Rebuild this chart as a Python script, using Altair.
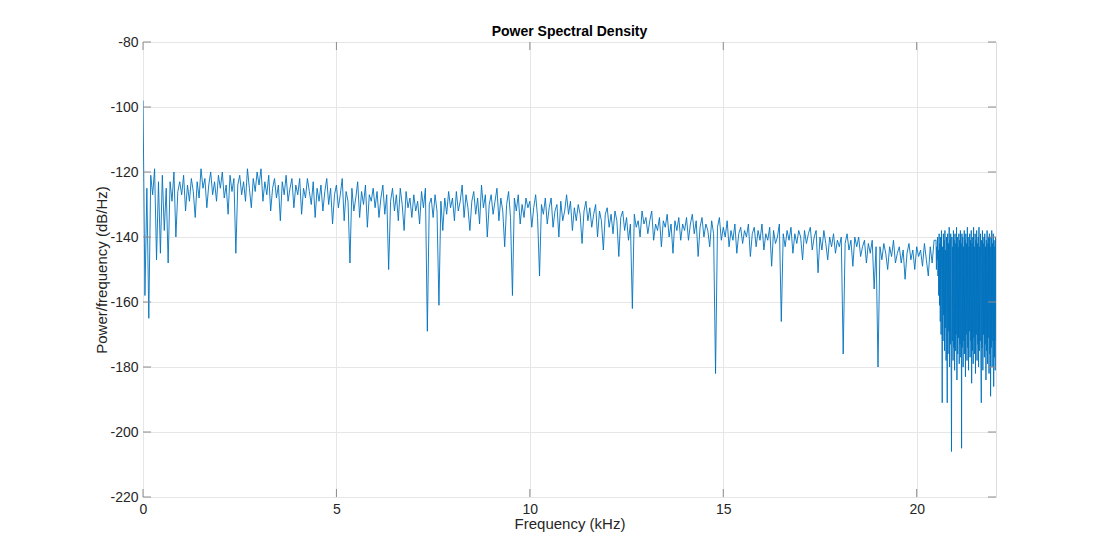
import altair as alt
import pandas as pd

# ---- data ----
# main part: 0.00 .. 20.45 kHz, bin step 0.05 kHz
step_main = 0.05
psd_main = [
    -98, -158, -125, -165, -121, -127, -119, -147, -123, -145,
    -121, -138, -125, -148, -123, -129, -120, -140, -126, -123,
    -127, -121, -132, -124, -129, -122, -126, -134, -123, -128,
    -119, -125, -122, -131, -124, -120, -127, -123, -129, -121,
    -125, -120, -128, -124, -133, -121, -126, -122, -145, -124,
    -121, -127, -123, -129, -119, -125, -131, -122, -126, -120,
    -124, -119, -129, -123, -127, -121, -132, -125, -122, -128,
    -124, -135, -123, -127, -121, -129, -125, -122, -131, -124,
    -127, -122, -133, -125, -128, -122, -126, -130, -123, -134,
    -125, -129, -124, -132, -126, -122, -130, -125, -136, -127,
    -124, -131, -127, -122, -135, -126, -129, -148, -125, -132,
    -128, -123, -134, -126, -130, -124, -137, -127, -129, -125,
    -131, -126, -134, -128, -124, -133, -127, -150, -129, -125,
    -132, -127, -135, -125, -130, -138, -126, -131, -128, -134,
    -127, -132, -129, -136, -126, -131, -125, -169, -130, -128,
    -134, -127, -132, -161, -129, -138, -128, -133, -126, -131,
    -128, -135, -126, -132, -129, -124, -134, -127, -131, -138,
    -129, -126, -133, -128, -136, -124, -131, -127, -140, -130,
    -127, -133, -129, -125, -135, -128, -132, -143, -130, -126,
    -134, -158, -128, -132, -127, -136, -130, -134, -128, -131,
    -129, -137, -131, -127, -134, -152, -130, -133, -128, -136,
    -131, -128, -137, -132, -130, -140, -129, -135, -132, -127,
    -133, -129, -138, -131, -135, -130, -133, -142, -132, -129,
    -135, -131, -137, -133, -130, -140, -132, -135, -144, -133,
    -131, -137, -133, -139, -132, -135, -146, -134, -132, -138,
    -134, -141, -136, -162, -133, -137, -135, -140, -132, -136,
    -134, -139, -135, -132, -141, -136, -138, -134, -143, -135,
    -137, -133, -140, -136, -145, -135, -138, -134, -141, -136,
    -138, -134, -141, -136, -133, -139, -135, -146, -137, -134,
    -140, -136, -138, -143, -135, -139, -182, -137, -134, -141,
    -137, -140, -135, -143, -138, -141, -136, -145, -139, -137,
    -142, -138, -140, -136, -146, -139, -137, -143, -138, -141,
    -136, -144, -139, -141, -137, -149, -138, -142, -140, -136,
    -166, -139, -143, -138, -141, -137, -145, -139, -142, -138,
    -140, -147, -138, -142, -139, -137, -144, -140, -138, -151,
    -140, -144, -138, -142, -147, -140, -143, -139, -145, -141,
    -143, -140, -176, -142, -139, -144, -141, -149, -140, -143,
    -140, -146, -143, -141, -148, -142, -145, -141, -156, -143,
    -180, -143, -147, -142, -145, -150, -143, -146, -141, -148,
    -145, -143, -148, -144, -153, -145, -142, -147, -144, -150,
    -143, -146, -144, -149, -142, -147, -152, -143, -148, -141,
]

# high-frequency part: 20.50 .. 22.05 kHz, bin step 0.01 kHz
start_hf = 20.50
step_hf = 0.01
psd_hf = [
    -141, -150, -143, -147, -140, -152, -144, -158, -139, -161,
    -142, -166, -140, -170, -138, -159, -191, -143, -172, -139,
    -164, -141, -175, -138, -168, -144, -178, -140, -171, -191,
    -139, -176, -142, -169, -137, -180, -141, -173, -139, -177,
    -206, -140, -172, -143, -178, -138, -174, -141, -181, -139,
    -175, -142, -170, -137, -184, -140, -176, -143, -171, -139,
    -179, -141, -173, -138, -177, -142, -205, -139, -174, -140,
    -180, -143, -172, -138, -176, -141, -183, -139, -170, -142,
    -178, -137, -174, -140, -181, -143, -169, -139, -177, -141,
    -172, -138, -185, -142, -175, -140, -179, -137, -171, -143,
    -176, -139, -182, -141, -170, -138, -178, -142, -173, -140,
    -180, -137, -175, -143, -172, -139, -178, -191, -141, -174,
    -138, -181, -142, -170, -140, -177, -139, -173, -143, -184,
    -141, -175, -138, -179, -142, -171, -140, -182, -139, -176,
    -143, -189, -140, -174, -138, -180, -142, -172, -139, -186,
    -141, -177, -143, -181, -140, -172,
]

x_ticks = [0, 5, 10, 15, 20]
y_ticks = [-220, -200, -180, -160, -140, -120, -100, -80]

freq = [round(i * step_main, 4) for i in range(len(psd_main))] + \
       [round(start_hf + i * step_hf, 4) for i in range(len(psd_hf))]
vals = psd_main + psd_hf
df = pd.DataFrame({"f": freq, "p": vals, "i": list(range(len(vals)))})

W, H = 853, 455
AX = "#8c8c8c"
TXT = "#262626"
FONT = "Liberation Sans"

xscale = alt.Scale(domain=[0, 22.05], nice=False, zero=False)
yscale = alt.Scale(domain=[-220, -80], nice=False, zero=False)

line = alt.Chart(df).mark_line(color="#0072BD", strokeWidth=0.9, clip=True).encode(
    x=alt.X("f:Q", scale=xscale, title="Frequency (kHz)",
            axis=alt.Axis(values=x_ticks, grid=True, gridColor="#e6e6e6",
                          domain=False, ticks=False, labelPadding=5,
                          labelFontSize=14, titleFontSize=15, titlePadding=0,
                          labelColor=TXT, titleColor=TXT, labelFont=FONT,
                          titleFont=FONT, titleFontWeight="normal",
                          labelFlush=False, labelExpr="'' + datum.value")),
    y=alt.Y("p:Q", scale=yscale, title="Power/frequency (dB/Hz)",
            axis=alt.Axis(values=y_ticks, grid=True, gridColor="#e6e6e6",
                          domain=False, ticks=False, labelPadding=5,
                          labelFontSize=14, titleFontSize=15, titlePadding=0,
                          labelColor=TXT, titleColor=TXT, labelFont=FONT,
                          titleFont=FONT, titleFontWeight="normal",
                          labelFlush=False, labelExpr="'' + datum.value")),
    order="i:Q",
)

xt = pd.DataFrame({"t": x_ticks})
yt = pd.DataFrame({"t": y_ticks})
TL = 8
xtick_bottom = alt.Chart(xt).mark_rule(color=AX, strokeWidth=1).encode(
    x=alt.X("t:Q", scale=xscale), y=alt.value(H), y2=alt.value(H - TL))
xtick_top = alt.Chart(xt).mark_rule(color=AX, strokeWidth=1).encode(
    x=alt.X("t:Q", scale=xscale), y=alt.value(0), y2=alt.value(TL))
ytick_left = alt.Chart(yt).mark_rule(color=AX, strokeWidth=1).encode(
    y=alt.Y("t:Q", scale=yscale), x=alt.value(0), x2=alt.value(TL))
ytick_right = alt.Chart(yt).mark_rule(color=AX, strokeWidth=1).encode(
    y=alt.Y("t:Q", scale=yscale), x=alt.value(W - TL), x2=alt.value(W))

chart = alt.layer(line, xtick_bottom, xtick_top, ytick_left, ytick_right).properties(
    width=W, height=H,
    title=alt.TitleParams("Power Spectral Density", font=FONT, fontSize=14,
                          fontWeight="bold", color="#000000", offset=-4),
    autosize=alt.AutoSizeParams(type="none"),
    padding={"left": 135, "top": 34, "right": 96, "bottom": 53},
).configure_view(stroke=AX, strokeWidth=1.2).configure(background="white")

chart.save("out.html", embed_options={"renderer": "svg", "actions": False})
